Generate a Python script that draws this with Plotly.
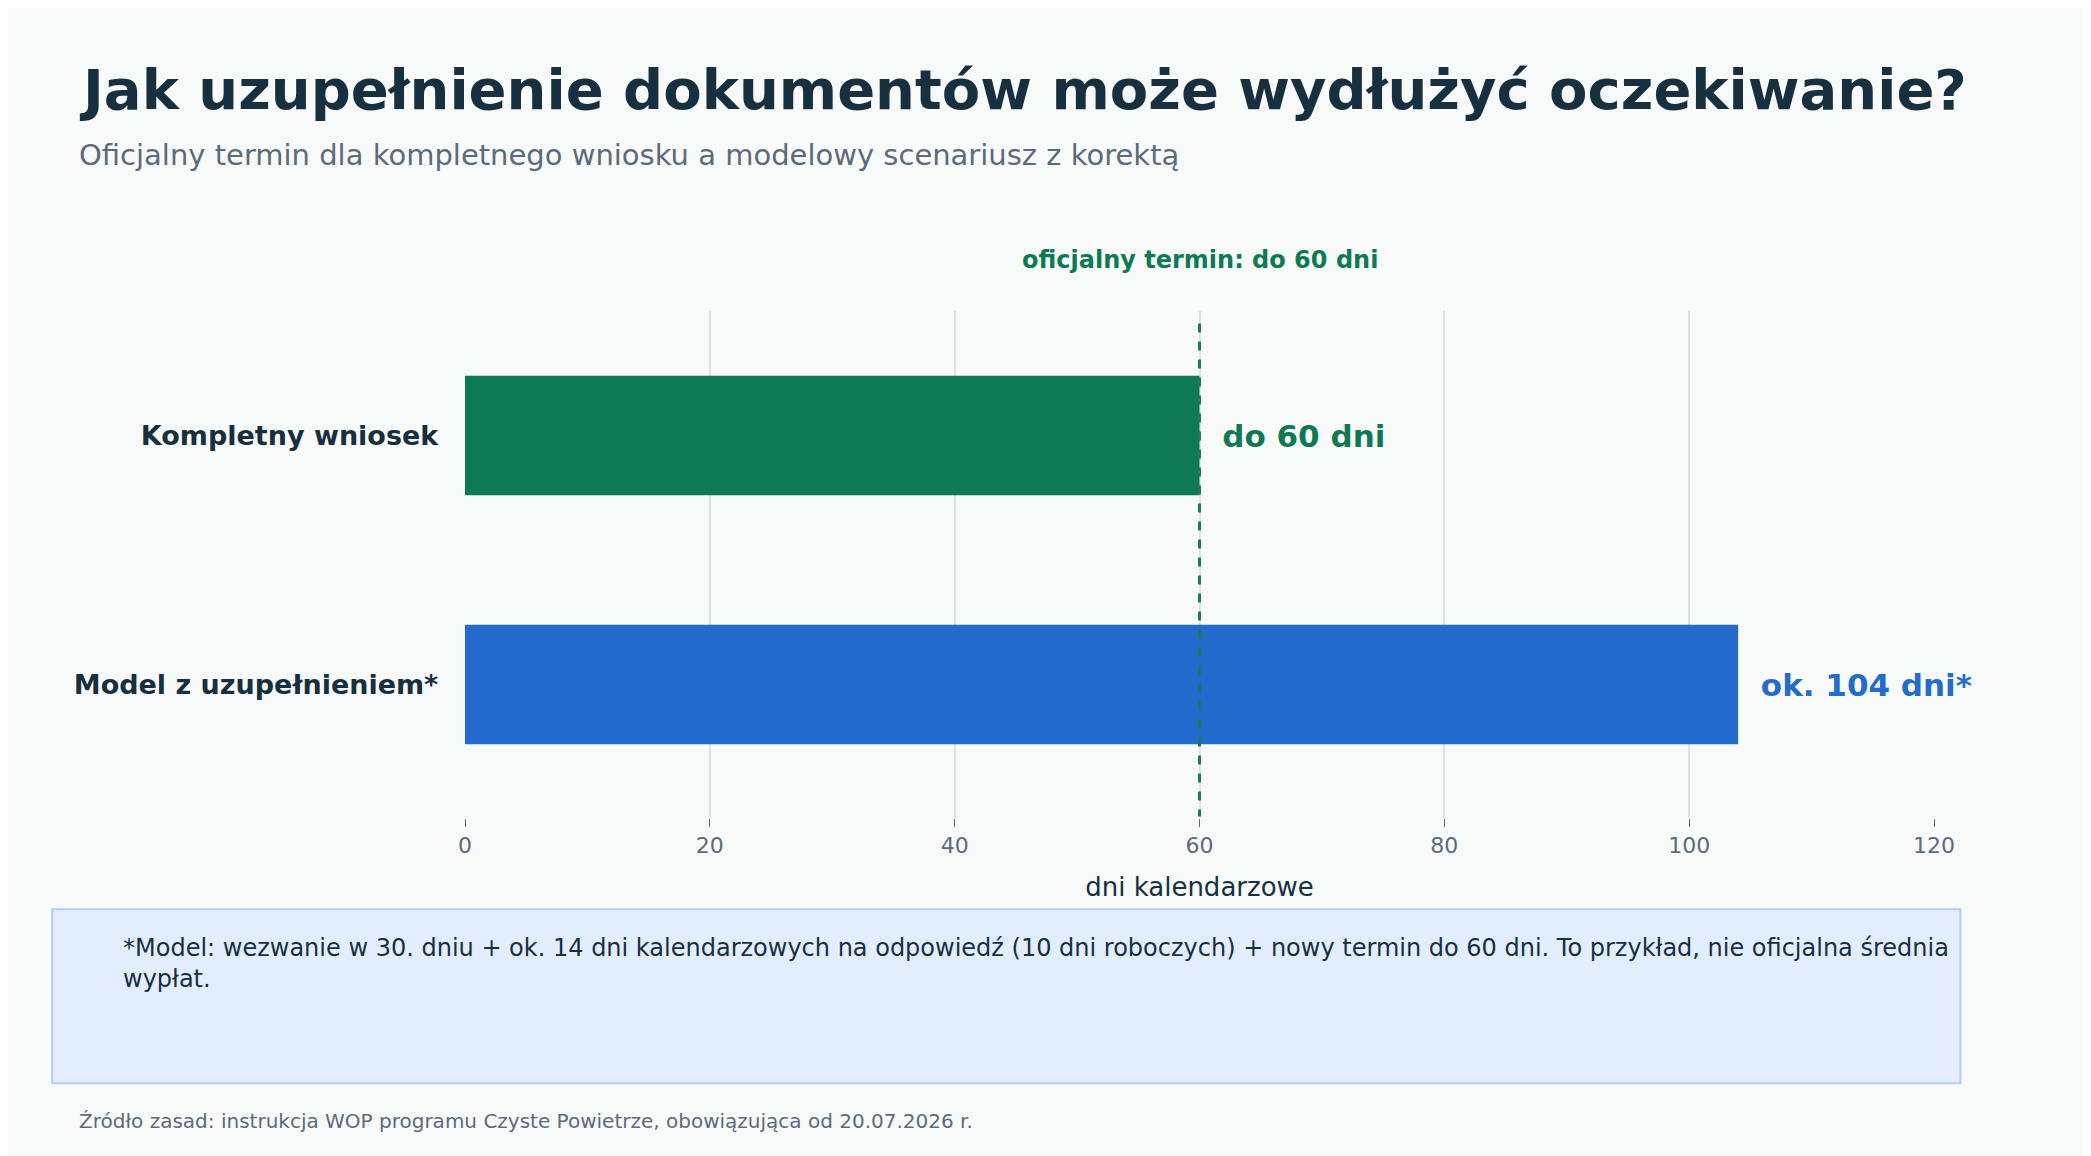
import plotly.graph_objects as go

categories = ["Kompletny wniosek", "Model z uzupełnieniem*"]
values = [60, 104]
labels = ["do 60 dni", "ok. 104 dni*"]
colors = ["#0e7a55", "#236bcd"]
official_days = 60
tick_vals = [0, 20, 40, 60, 80, 100, 120]

F = "DejaVu Sans"
fig = go.Figure()
fig.add_trace(go.Bar(
    y=categories, x=values, orientation="h", width=0.48,
    marker=dict(color=colors, line=dict(width=0)),
    text=["  <b>%s</b>" % t for t in labels], textposition="outside",
    textfont=dict(family=F, size=31, color=colors), cliponaxis=False,
    hoverinfo="skip",
))
fig.add_shape(type="line", x0=official_days, x1=official_days, y0=-0.45, y1=1.53,
              xref="x", yref="y", line=dict(color="#1f7a5a", width=3, dash="dash"))
fig.add_annotation(x=official_days, y=1.132, xref="x", yref="paper",
                   text="<b>oficjalny termin: do 60 dni</b>", showarrow=False,
                   font=dict(family=F, size=24, color="#0e7a55"))
fig.add_annotation(x=-0.264, y=1.505, xref="paper", yref="paper", xanchor="left",
                   text="<b>Jak uzupełnienie dokumentów może wydłużyć oczekiwanie?</b>",
                   showarrow=False, font=dict(family=F, size=56, color="#17303f"))
fig.add_annotation(x=-0.264, y=1.345, xref="paper", yref="paper", xanchor="left",
                   text="Oficjalny termin dla kompletnego wniosku a modelowy scenariusz z korektą",
                   showarrow=False, font=dict(family=F, size=29, color="#5b6b7b"))
fig.add_shape(type="rect", xref="paper", yref="paper", x0=-0.281, x1=1.018, y0=-0.523, y1=-0.180,
              fillcolor="#e2eeff", line=dict(color="#b3cdf0", width=2), layer="below")
fig.add_annotation(x=-0.234, y=-0.349, xref="paper", yref="paper", xanchor="left", align="left",
                   text="*Model: wezwanie w 30. dniu + ok. 14 dni kalendarzowych na odpowiedź (10 dni roboczych) + nowy termin do 60 dni. To przykład, nie oficjalna średnia<br>wypłat.",
                   showarrow=False, font=dict(family=F, size=24, color="#17303f"))
fig.add_annotation(x=-0.264, y=-0.625, xref="paper", yref="paper", xanchor="left",
                   text="Źródło zasad: instrukcja WOP programu Czyste Powietrze, obowiązująca od 20.07.2026 r.",
                   showarrow=False, font=dict(family=F, size=20, color="#5b6b7b"))
fig.update_layout(
    width=2091, height=1156, paper_bgcolor="#f8faf9", plot_bgcolor="#f8faf9",
    margin=dict(l=457, r=165, t=303, b=346), showlegend=False,
    font=dict(family=F),
    xaxis=dict(range=[0, 120], tickvals=tick_vals, showgrid=True, gridcolor="#dde2e8",
               gridwidth=2, zeroline=False, ticks="outside", ticklen=8, tickcolor="#5b6b7b",
               tickfont=dict(size=22, color="#5b6b7b"),
               title=dict(text="dni kalendarzowe", font=dict(size=26, color="#17303f"), standoff=20)),
    yaxis=dict(autorange="reversed", tickfont=dict(size=27, color="#17303f", family=F),
               showgrid=False),
)
fig.update_yaxes(tickprefix="<b>", ticksuffix="</b>   ")
fig.write_html("out.html")
